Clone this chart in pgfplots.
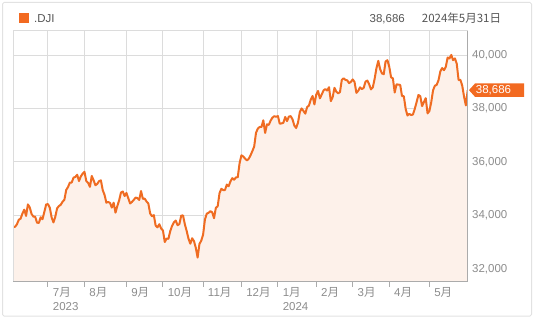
\documentclass[border=0pt]{standalone}
\usepackage{pgfplots}
\pgfplotsset{compat=1.18}
\usepackage{pgfplotstable}
\usepackage{fontspec}
\setmainfont{Liberation Sans}
\newfontfamily\cjk{Noto Sans CJK JP}
\definecolor{lineor}{HTML}{EF6C22}
\definecolor{fillor}{HTML}{FDF1EA}
\definecolor{legor}{HTML}{F26A21}
\definecolor{gridc}{HTML}{DCDCDC}
\definecolor{axisc}{HTML}{ABABAB}
\definecolor{darkgc}{HTML}{9A9A9A}
\definecolor{tickc}{HTML}{8C8C8C}
\definecolor{txtc}{HTML}{555555}
\definecolor{framec}{HTML}{E2E2E2}
\pgfplotstableread[row sep=\\]{
i v\\
0 33563\\1 33573\\2 33665\\3 33833\\4 33876\\5 34066\\6 34212\\7 33979\\8 34408\\9 34299\\10 34053\\11 33952\\12 33946\\13 33727\\14 33714\\15 33927\\16 33852\\17 34122\\18 34408\\
19 34418\\20 34288\\21 33922\\22 33734\\23 33944\\24 34261\\25 34347\\26 34395\\27 34509\\28 34585\\29 34952\\30 35061\\31 35225\\32 35228\\33 35411\\34 35438\\35 35520\\36 35282\\37 35459\\38 35560\\
39 35630\\40 35283\\41 35216\\42 35066\\43 35474\\44 35314\\45 35124\\46 35176\\47 35281\\48 35308\\49 34946\\50 34766\\51 34474\\52 34501\\53 34464\\54 34289\\55 34473\\56 34100\\57 34347\\58 34560\\59 34853\\60 34891\\61 34722\\
62 34838\\63 34642\\64 34444\\65 34501\\66 34577\\67 34664\\68 34646\\69 34576\\70 34908\\71 34618\\72 34624\\73 34518\\74 34441\\75 34070\\76 33964\\77 34007\\78 33619\\79 33551\\80 33667\\81 33508\\
82 33433\\83 33002\\84 33130\\85 33120\\86 33408\\87 33605\\88 33740\\89 33805\\90 33632\\91 33671\\92 33985\\93 33998\\94 33665\\95 33415\\96 33127\\97 32937\\98 33141\\99 33036\\100 32785\\101 32418\\102 32929\\103 33053\\
104 33275\\105 33840\\106 34061\\107 34096\\108 34153\\109 34112\\110 33892\\111 34283\\112 34338\\113 34828\\114 34992\\115 34946\\116 34947\\117 35151\\118 35088\\119 35273\\120 35390\\121 35333\\122 35417\\123 35430\\124 35951\\
125 36245\\126 36204\\127 36125\\128 36054\\129 36117\\130 36247\\131 36405\\132 36577\\133 37090\\134 37248\\135 37306\\136 37307\\137 37558\\138 37083\\139 37405\\140 37386\\141 37545\\142 37657\\143 37710\\144 37690\\
145 37715\\146 37431\\147 37440\\148 37466\\149 37683\\150 37526\\151 37696\\152 37712\\153 37593\\154 37361\\155 37267\\156 37469\\157 37864\\158 38001\\159 37906\\160 37807\\161 38050\\162 38109\\163 38333\\164 38467\\165 38150\\
166 38519\\167 38654\\168 38380\\169 38521\\170 38677\\171 38726\\172 38671\\173 38797\\174 38273\\175 38424\\176 38773\\177 38628\\178 38564\\179 38612\\180 39069\\181 39131\\182 39069\\183 39053\\184 38949\\185 38996\\
186 39087\\187 38990\\188 38585\\189 38661\\190 38791\\191 38723\\192 38770\\193 39005\\194 39043\\195 38906\\196 38715\\197 38790\\198 39111\\199 39512\\200 39781\\201 39476\\202 39313\\203 39282\\204 39760\\205 39807\\
206 39567\\207 39170\\208 39127\\209 38597\\210 38904\\211 38892\\212 38884\\213 38462\\214 38459\\215 37983\\216 37735\\217 37799\\218 37753\\219 37775\\220 37986\\221 38240\\222 38504\\223 38461\\224 38086\\225 38240\\226 38386\\227 37816\\
228 37903\\229 38226\\230 38676\\231 38852\\232 38884\\233 39056\\234 39388\\235 39513\\236 39432\\237 39558\\238 39908\\239 39869\\240 40004\\241 39807\\242 39873\\243 39671\\244 39065\\245 39070\\246 38853\\247 38442\\248 38112\\249 38686\\
}\dji
\begin{document}
\begin{tikzpicture}[x=1pt,y=1pt]
\path[use as bounding box] (0,0) rectangle (540,321);
\draw[framec, line width=1pt, rounded corners=1.5pt] (2.5,5) rectangle (531.5,318.5);
\fill[legor] (19.3,297.7) rectangle (29.3,307.7);
\node[anchor=base west, inner sep=0pt, text=txtc, font=\fontsize{11.5}{14}\selectfont] at (34,298) {.DJI};
\node[anchor=base east, inner sep=0pt, text=txtc, font=\fontsize{11.5}{14}\selectfont] at (405,298) {38,686};
\node[anchor=base west, inner sep=0pt, text=txtc, font=\fontsize{11.5}{14}\selectfont] at (421.7,298) {\cjk 2024年5月31日};
\begin{axis}[
  at={(13.3pt,39.7pt)}, anchor=south west,
  scale only axis, width=454.4pt, height=250.3pt,
  xmin=0, xmax=249, ymin=31530, ymax=40900,
  axis line style={draw=none},
  grid=major, major grid style={gridc, line width=1pt},
  xtick={19,39,62,82,104,125,145,166,186,206,228},
  xticklabels={{7{\cjk 月}\\2023},{8{\cjk 月}},{9{\cjk 月}},{10{\cjk 月}},{11{\cjk 月}},{12{\cjk 月}},{1{\cjk 月}\\2024},{2{\cjk 月}},{3{\cjk 月}},{4{\cjk 月}},{5{\cjk 月}}},
  extra x ticks={145}, extra x tick labels={},
  extra x tick style={grid style={darkgc, line width=1pt}},
  ytick={32000,34000,36000,38000,40000},
  scaled y ticks=false,
  xtick pos=bottom, ytick pos=right, yticklabel pos=right,
  xtick align=outside,
  major tick length=5.5pt,
  x tick style={axisc, line width=1pt},
  y tick style={draw=none},
  /pgf/number format/1000 sep={,},
  /pgf/number format/assume math mode=true,
  ticklabel style={text=tickc, font=\fontsize{11.5}{14.5}\selectfont},
  yticklabel style={anchor=west, inner sep=0pt, xshift=4.3pt},
  xticklabel style={anchor=north west, align=left, inner sep=0pt, xshift=4.7pt},
]
\addplot[draw=none, fill=fillor] table[x=i, y=v] {\dji} \closedcycle;
\addplot[lineor, line width=2pt, line join=round] table[x=i, y=v] {\dji};
\coordinate (lastpt) at (axis cs:249,38686);
\end{axis}
\draw[gridc, line width=1pt] (13.3,39.7) -- (13.3,290) -- (467.7,290);
\draw[axisc, line width=1pt] (467.7,290) -- (467.7,39.7) -- (13.3,39.7);
\fill[legor] (lastpt) ++(1.3,0) -- ++(6,6.7) -- ++(49,0) -- ++(0,-13.4) -- ++(-49,0) -- cycle;
\node[anchor=west, inner sep=0pt, text=white, font=\fontsize{11.5}{14}\selectfont] at ([xshift=8pt]lastpt) {38,686};
\end{tikzpicture}
\end{document}
